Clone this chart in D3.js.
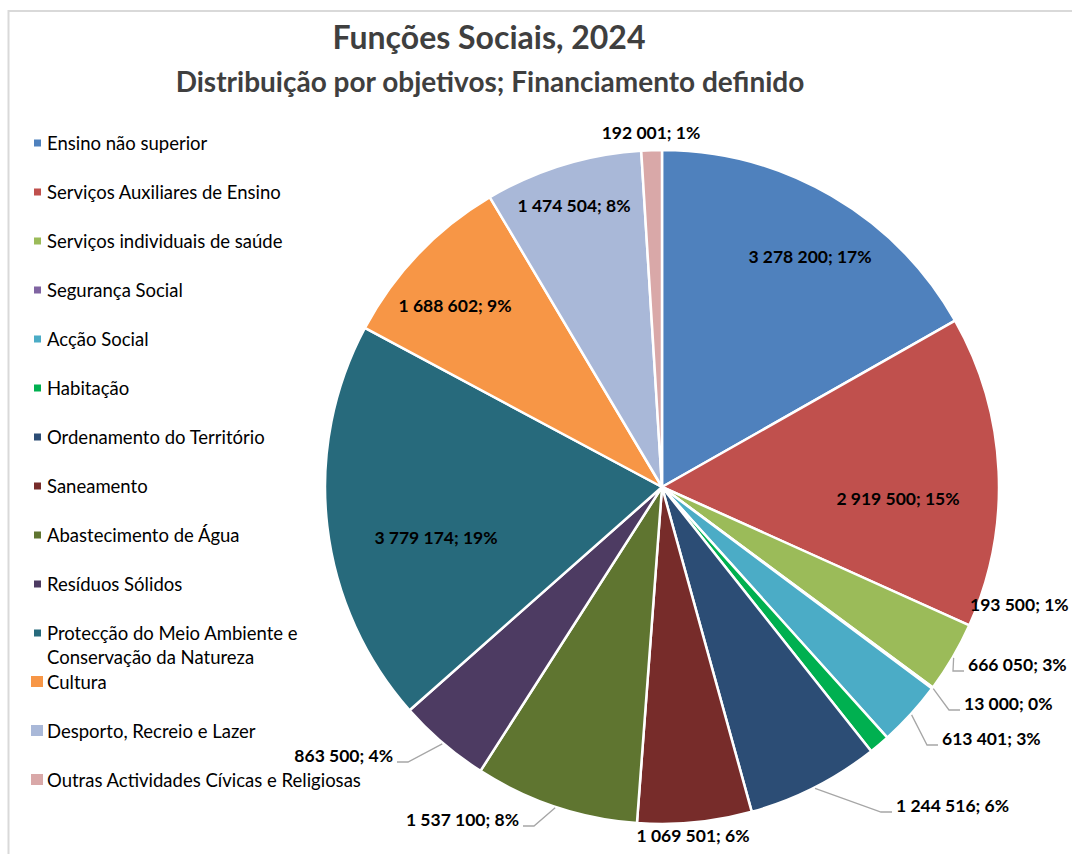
<!DOCTYPE html>
<html>
<head>
<meta charset="utf-8">
<script src="https://cdn.jsdelivr.net/npm/d3@7/dist/d3.min.js"></script>
<style>
  body { margin: 0; background: #fff; }
  svg { display: block; }
  text { font-family: Lato, "Open Sans", sans-serif; }
</style>
</head>
<body>
<svg id="chart" width="1072" height="854"></svg>
<script>
// ---------------- data ----------------
const titleText = "Funções Sociais, 2024";
const subtitleText = "Distribuição por objetivos; Financiamento definido";

const categories = [
  "Ensino não superior",
  "Serviços Auxiliares de Ensino",
  "Serviços individuais de saúde",
  "Segurança Social",
  "Acção Social",
  "Habitação",
  "Ordenamento do Território",
  "Saneamento",
  "Abastecimento de Água",
  "Resíduos Sólidos",
  "Protecção do Meio Ambiente e Conservação da Natureza",
  "Cultura",
  "Desporto, Recreio e Lazer",
  "Outras Actividades Cívicas e Religiosas"
];

const values = [
  3278200, 2919500, 666050, 13000, 613401, 193500, 1244516,
  1069501, 1537100, 863500, 3779174, 1688602, 1474504, 192001
];

const colors = [
  "#4F81BD", "#C0504D", "#9BBB59", "#8064A2", "#4BACC6", "#00B050", "#2C4D75",
  "#772C2A", "#5F7530", "#4D3B62", "#276A7C", "#F79646", "#A9B8D8", "#D9A8A8"
];

// legend text lines (wrapped as in the reference)
const legendLines = categories.map(c =>
  c === "Protecção do Meio Ambiente e Conservação da Natureza"
    ? ["Protecção do Meio Ambiente e", "Conservação da Natureza"] : [c]);

// ---------------- layout ----------------
const W = 1072, H = 854;
const cx = 662, cy = 487, R = 337;

// label placement relative to the pie centre: [dx, dy(baseline), anchor, leader]
const labelLayout = [
  [148, -224, "middle", false],
  [236, 18, "middle", false],
  [306, 184, "start", true],
  [302, 223, "start", true],
  [280, 258, "start", true],
  [308, 124, "start", false],
  [234, 325, "start", true],
  [31, 355, "middle", false],
  [-143, 339, "end", true],
  [-269, 275, "end", true],
  [-226, 57, "middle", false],
  [-207, -175, "middle", false],
  [-88, -275, "middle", false],
  [-11, -348, "middle", false]
];

// ---------------- percentages (largest remainder, sums to 100) ----------------
const total = d3.sum(values);
const raw = values.map(v => v / total * 100);
const pct = raw.map(Math.floor);
let rest = 100 - d3.sum(pct);
raw.map((r, i) => [r - Math.floor(r), i])
   .sort((a, b) => b[0] - a[0])
   .slice(0, rest)
   .forEach(([, i]) => pct[i] += 1);

const fmt = v => d3.format(",")(v).replace(/,/g, " ");

// ---------------- draw ----------------
const svg = d3.select("#chart");

// chart border
svg.append("rect")
  .attr("x", 8.5).attr("y", 11)
  .attr("width", W + 20).attr("height", H + 20)
  .attr("fill", "none").attr("stroke", "#D9D9D9").attr("stroke-width", 2);

// titles
svg.append("text")
  .attr("x", 489).attr("y", 49)
  .attr("text-anchor", "middle")
  .attr("font-size", 32).attr("font-weight", 700).attr("fill", "#3F3F3F")
  .text(titleText);
svg.append("text")
  .attr("x", 490).attr("y", 92)
  .attr("text-anchor", "middle")
  .attr("font-size", 28).attr("font-weight", 700).attr("fill", "#3F3F3F")
  .text(subtitleText);

// pie
const pie = d3.pie().sort(null).value(d => d)(values);
const arc = d3.arc().innerRadius(0).outerRadius(R);

const g = svg.append("g").attr("transform", `translate(${cx},${cy})`);
g.selectAll("path.slice")
  .data(pie)
  .join("path")
  .attr("class", "slice")
  .attr("d", arc)
  .attr("fill", (d, i) => colors[i])
  .attr("stroke", "#fff")
  .attr("stroke-width", 2.5)
  .attr("stroke-linejoin", "round");

// leader lines
pie.forEach((d, i) => {
  const [dx, dy, anchor, leader] = labelLayout[i];
  if (!leader) return;
  const a = (d.startAngle + d.endAngle) / 2;
  const sx = Math.sin(a) * (R + 1), sy = -Math.cos(a) * (R + 1);
  const dir = anchor === "end" ? 1 : -1;
  const ex = dx + dir * 15, hx = dx + dir * 4;
  g.append("path")
    .attr("d", `M${sx},${sy}L${ex},${dy}L${hx},${dy}`)
    .attr("fill", "none").attr("stroke", "#A6A6A6").attr("stroke-width", 1.3);
});

// data labels
g.selectAll("text.lbl")
  .data(pie)
  .join("text")
  .attr("class", "lbl")
  .attr("x", (d, i) => labelLayout[i][0])
  .attr("y", (d, i) => labelLayout[i][1])
  .attr("text-anchor", (d, i) => labelLayout[i][2])
  .attr("font-size", 17.5).attr("font-weight", 700).attr("fill", "#000")
  .text((d, i) => `${fmt(values[i])}; ${pct[i]}%`);

// legend
const lg = svg.append("g");
categories.forEach((c, i) => {
  const yc = 143 + 49 * i;
  const big = i >= 11;
  const s = big ? 12 : 7;
  lg.append("rect")
    .attr("x", big ? 31 : 34).attr("y", yc - s / 2)
    .attr("width", s).attr("height", big ? 11 : 7)
    .attr("fill", colors[i]);
  const t = lg.append("text")
    .attr("x", 47).attr("y", yc + 6.5)
    .attr("font-size", 18.5).attr("fill", "#000");
  legendLines[i].forEach((ln, k) => {
    t.append("tspan").attr("x", 47).attr("dy", k === 0 ? 0 : 24).text(ln);
  });
});
</script>
</body>
</html>
